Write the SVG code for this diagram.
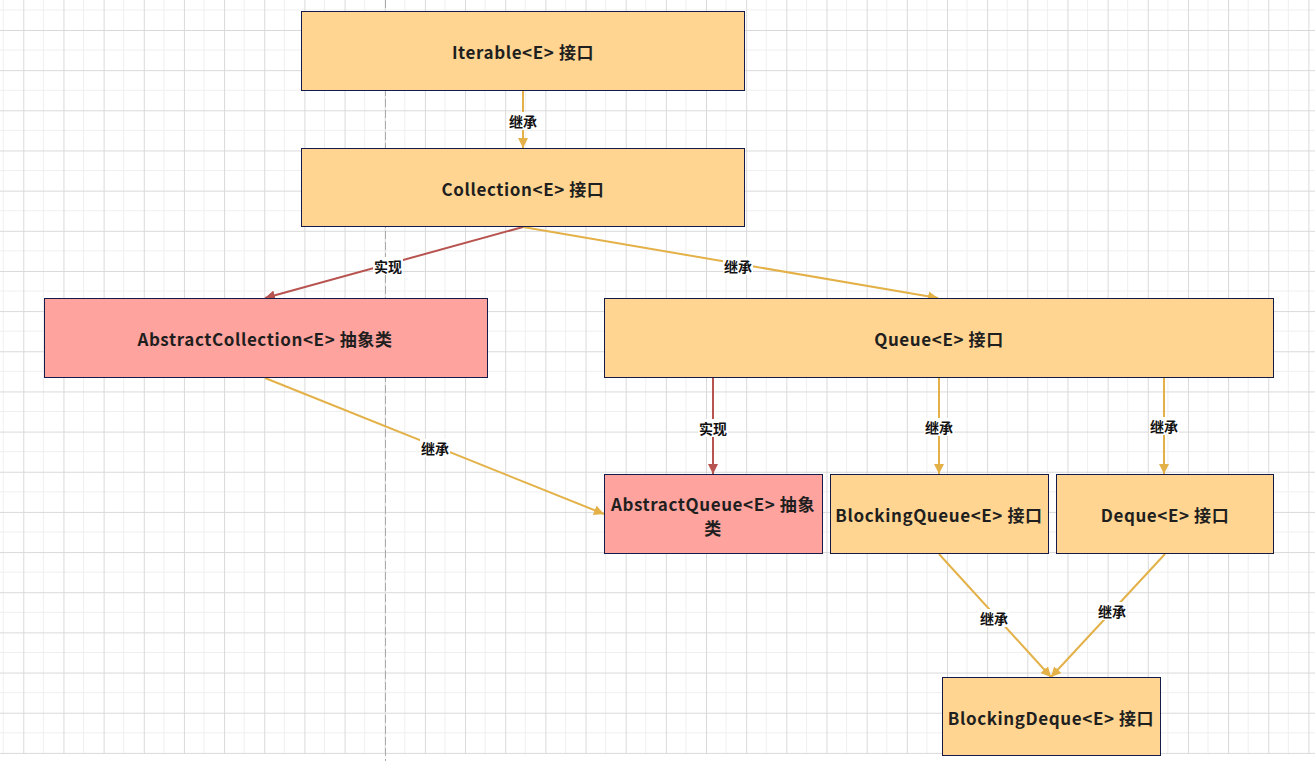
<svg xmlns="http://www.w3.org/2000/svg" width="1315" height="764" viewBox="0 0 1315 764">
<defs>
<pattern id="grid" patternUnits="userSpaceOnUse" x="23.3" y="30" width="40.16" height="40.16">
<line x1="20.08" y1="0" x2="20.08" y2="40.16" stroke="#efefef" stroke-width="1"/>
<line x1="0" y1="20.08" x2="40.16" y2="20.08" stroke="#efefef" stroke-width="1"/>
<line x1="0.5" y1="0" x2="0.5" y2="40.16" stroke="#d9d9d9" stroke-width="1"/>
<line x1="0" y1="0.5" x2="40.16" y2="0.5" stroke="#d9d9d9" stroke-width="1"/>
</pattern>
<marker id="ag" viewBox="0 0 10 10" refX="10" refY="5" markerWidth="10" markerHeight="10" markerUnits="userSpaceOnUse" orient="auto">
<path d="M0,0 L10,5 L0,10 Z" fill="#e3b148"/>
</marker>
<marker id="ar" viewBox="0 0 10 10" refX="10" refY="5" markerWidth="10" markerHeight="10" markerUnits="userSpaceOnUse" orient="auto">
<path d="M0,0 L10,5 L0,10 Z" fill="#b85450"/>
</marker>
</defs>
<style>
.box{stroke:#141a4a;stroke-width:1}
.y{fill:#ffd591}
.p{fill:#ffa39e}
.t{font-family:"Noto Sans CJK SC","Noto Sans",sans-serif;font-weight:bold;font-size:17px;letter-spacing:0.6px;fill:#1f1f1f;text-anchor:middle;dominant-baseline:central}
.g{stroke:#e3b148;stroke-width:2;fill:none;marker-end:url(#ag)}
.r{stroke:#b85450;stroke-width:2;fill:none;marker-end:url(#ar)}
.lb{fill:#ffffff}
.l{font-family:"Noto Sans CJK SC","Noto Sans",sans-serif;font-weight:bold;font-size:14px;fill:#111111;text-anchor:middle;dominant-baseline:central}
</style>
<rect x="0" y="0" width="1315" height="764" fill="#ffffff"/>
<rect x="0" y="0" width="1315" height="754" fill="url(#grid)"/>
<line x1="385.5" y1="0" x2="385.5" y2="761" stroke="#aaaaaa" stroke-width="1" stroke-dasharray="8,3"/>
<g id="connectors">
<line class="g" x1="523" y1="90" x2="523" y2="148"/>
<line class="r" x1="523" y1="227" x2="265" y2="298"/>
<line class="g" x1="523" y1="227" x2="938" y2="298"/>
<line class="g" x1="265" y1="378" x2="604" y2="514"/>
<line class="r" x1="713" y1="378" x2="713" y2="474"/>
<line class="g" x1="939" y1="378" x2="939" y2="474"/>
<line class="g" x1="1164" y1="378" x2="1164" y2="474"/>
<line class="g" x1="939" y1="554" x2="1051" y2="677"/>
<line class="g" x1="1165" y1="554" x2="1051" y2="677"/>
<rect class="lb" x="508" y="112" width="30" height="18"/><text class="l" x="523" y="121">继承</text>
<rect class="lb" x="373" y="257" width="30" height="18"/><text class="l" x="388" y="266">实现</text>
<rect class="lb" x="723" y="257" width="30" height="18"/><text class="l" x="738" y="266">继承</text>
<rect class="lb" x="420" y="439" width="30" height="18"/><text class="l" x="435" y="448">继承</text>
<rect class="lb" x="698" y="419" width="30" height="18"/><text class="l" x="713" y="428">实现</text>
<rect class="lb" x="924" y="418" width="30" height="18"/><text class="l" x="939" y="427">继承</text>
<rect class="lb" x="1149" y="417" width="30" height="18"/><text class="l" x="1164" y="426">继承</text>
<rect class="lb" x="979" y="609" width="30" height="18"/><text class="l" x="994" y="618">继承</text>
<rect class="lb" x="1097" y="602" width="30" height="18"/><text class="l" x="1112" y="611">继承</text>
</g>
<g id="iterable"><rect class="box y" x="301.5" y="11.5" width="443" height="79"/><text class="t" x="523" y="51">Iterable&lt;E&gt; 接口</text></g>
<g id="collection"><rect class="box y" x="301.5" y="148.5" width="443" height="78"/><text class="t" x="523" y="188">Collection&lt;E&gt; 接口</text></g>
<g id="abstractcollection"><rect class="box p" x="44.5" y="298.5" width="443" height="79"/><text class="t" x="265" y="338">AbstractCollection&lt;E&gt; 抽象类</text></g>
<g id="queue"><rect class="box y" x="604.5" y="298.5" width="669" height="79"/><text class="t" x="939" y="338">Queue&lt;E&gt; 接口</text></g>
<g id="abstractqueue"><rect class="box p" x="604.5" y="474.5" width="218" height="79"/><text class="t" x="713" y="503">AbstractQueue&lt;E&gt; 抽象</text><text class="t" x="713" y="527">类</text></g>
<g id="blockingqueue"><rect class="box y" x="830.5" y="474.5" width="218" height="79"/><text class="t" x="939" y="514">BlockingQueue&lt;E&gt; 接口</text></g>
<g id="deque"><rect class="box y" x="1056.5" y="474.5" width="217" height="79"/><text class="t" x="1165" y="514">Deque&lt;E&gt; 接口</text></g>
<g id="blockingdeque"><rect class="box y" x="942.5" y="677.5" width="218" height="78"/><text class="t" x="1051" y="717">BlockingDeque&lt;E&gt; 接口</text></g>
</svg>
